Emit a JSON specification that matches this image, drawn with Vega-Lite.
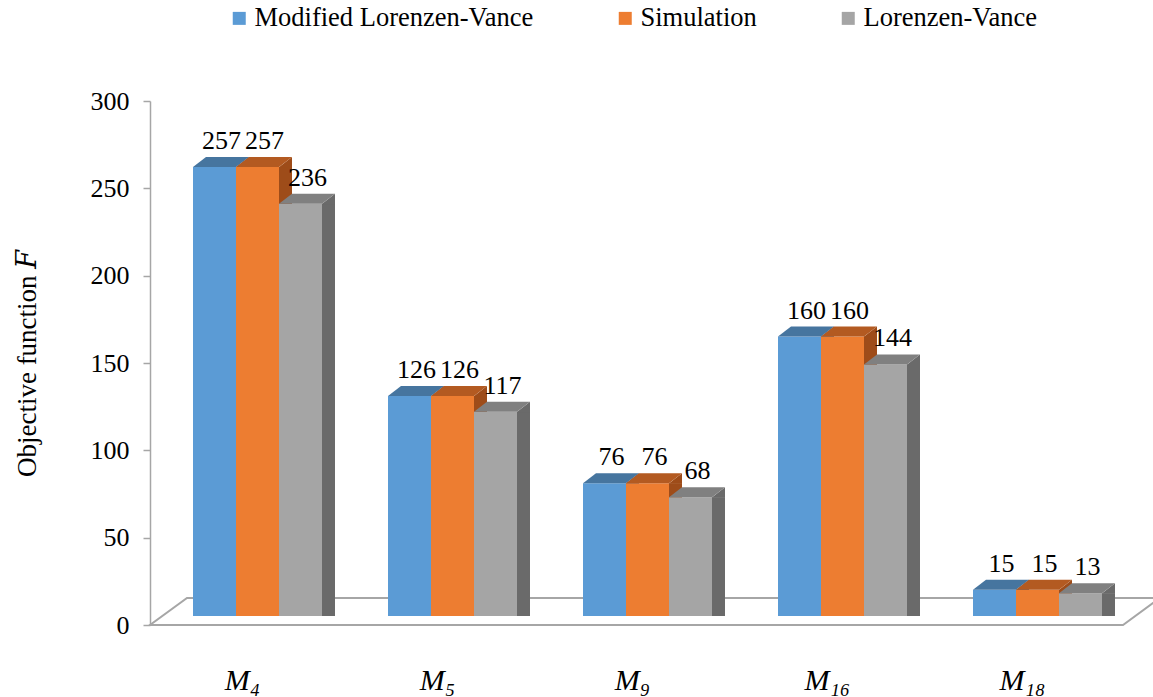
{
  "$schema": "https://vega.github.io/schema/vega-lite/v6.json",
  "width": 975,
  "height": 524,
  "autosize": "none",
  "padding": {"left": 150, "top": 101, "right": 28, "bottom": 72},
  "background": "white",
  "config": {
    "view": {"stroke": null},
    "font": "Liberation Serif, Times New Roman, DejaVu Serif, serif",
    "axisX": {
      "domain": false,
      "ticks": false,
      "labelAngle": 0,
      "labelFont": "Liberation Serif, Times New Roman, DejaVu Serif, serif",
      "labelFontStyle": "italic",
      "labelFontSize": 30,
      "labelColor": "black",
      "labelPadding": 40,
      "labelOffset": -5
    },
    "axisY": {
      "grid": false,
      "domainColor": "#A6A6A6",
      "domainWidth": 1.5,
      "tickColor": "#A6A6A6",
      "tickWidth": 1.5,
      "tickSize": 7,
      "labelFont": "Liberation Serif, Times New Roman, DejaVu Serif, serif",
      "labelFontSize": 26,
      "labelColor": "black",
      "labelPadding": 14,
      "titleFont": "Liberation Serif, Times New Roman, DejaVu Serif, serif",
      "titleFontSize": 27,
      "titleFontWeight": "normal",
      "titleColor": "black",
      "titlePadding": 49
    },
    "legend": {
      "orient": "none",
      "legendX": 76,
      "legendY": -96,
      "direction": "horizontal",
      "symbolType": "square",
      "symbolSize": 169,
      "symbolStrokeWidth": 0,
      "labelFont": "Liberation Serif, Times New Roman, DejaVu Serif, serif",
      "labelFontSize": 26.5,
      "labelColor": "black",
      "labelOffset": 2,
      "labelLimit": 500,
      "columnPadding": 78,
      "title": null
    }
  },
  "data": {
    "values": [
      {"model": "M₄", "method": "Modified Lorenzen-Vance", "F": 257},
      {"model": "M₄", "method": "Simulation", "F": 257},
      {"model": "M₄", "method": "Lorenzen-Vance", "F": 236},
      {"model": "M₅", "method": "Modified Lorenzen-Vance", "F": 126},
      {"model": "M₅", "method": "Simulation", "F": 126},
      {"model": "M₅", "method": "Lorenzen-Vance", "F": 117},
      {"model": "M₉", "method": "Modified Lorenzen-Vance", "F": 76},
      {"model": "M₉", "method": "Simulation", "F": 76},
      {"model": "M₉", "method": "Lorenzen-Vance", "F": 68},
      {"model": "M₁₆", "method": "Modified Lorenzen-Vance", "F": 160},
      {"model": "M₁₆", "method": "Simulation", "F": 160},
      {"model": "M₁₆", "method": "Lorenzen-Vance", "F": 144},
      {"model": "M₁₈", "method": "Modified Lorenzen-Vance", "F": 15},
      {"model": "M₁₈", "method": "Simulation", "F": 15},
      {"model": "M₁₈", "method": "Lorenzen-Vance", "F": 13}
    ]
  },
  "encoding": {
    "x": {
      "field": "model",
      "type": "nominal",
      "sort": null,
      "title": null,
      "scale": {"domain": ["M₄", "M₅", "M₉", "M₁₆", "M₁₈"], "paddingInner": 0.3385, "paddingOuter": 0.16925}
    }
  },
  "layer": [
    {
      "transform": [{"filter": "datum.model === 'M₉' && datum.method === 'Simulation'"}],
      "mark": {
        "type": "point",
        "shape": "M-9.75,0 L9.71,0 L10.45,-0.54 L-9.01,-0.54 Z",
        "size": 10000,
        "filled": false,
        "color": "#A6A6A6",
        "strokeWidth": 2,
        "opacity": 1
      },
      "encoding": {
        "y": {"datum": 0, "type": "quantitative", "scale": {"domain": [0, 300]}, "title": "Objective function 𝐹", "axis": {"values": [0, 50, 100, 150, 200, 250, 300]}}
      }
    },
    {
      "mark": {"type": "bar", "width": 13, "yOffset": -9, "y2Offset": -14},
      "encoding": {
        "y": {"field": "F", "type": "quantitative", "scale": {"domain": [0, 300]}, "title": "Objective function 𝐹", "axis": {"values": [0, 50, 100, 150, 200, 250, 300]}},
        "xOffset": {"field": "method", "type": "nominal", "scale": {"domain": ["Modified Lorenzen-Vance", "Simulation", "Lorenzen-Vance"], "range": [38, 167], "paddingInner": 0, "paddingOuter": 0}},
        "fill": {"field": "method", "type": "nominal", "legend": null, "scale": {"domain": ["Modified Lorenzen-Vance", "Simulation", "Lorenzen-Vance"], "range": ["#3A6590", "#9E4C19", "#6A6A6A"]}}
      }
    },
    {
      "mark": {"type": "point", "shape": "M0.42,0.01 L0.69,-0.2 L0.69,0.01 Z", "size": 10000, "filled": true, "opacity": 1, "strokeWidth": 0, "yOffset": -9},
      "encoding": {
        "y": {"field": "F", "type": "quantitative", "scale": {"domain": [0, 300]}, "title": "Objective function 𝐹", "axis": {"values": [0, 50, 100, 150, 200, 250, 300]}},
        "xOffset": {"field": "method", "type": "nominal", "scale": {"type": "point", "domain": ["Modified Lorenzen-Vance", "Simulation", "Lorenzen-Vance"], "range": [31.5, 117.5], "padding": 0}},
        "fill": {"field": "method", "type": "nominal", "legend": null, "scale": {"domain": ["Modified Lorenzen-Vance", "Simulation", "Lorenzen-Vance"], "range": ["#3A6590", "#9E4C19", "#6A6A6A"]}}
      }
    },
    {
      "mark": {"type": "bar", "yOffset": -9, "y2Offset": -9},
      "encoding": {
        "y": {"field": "F", "type": "quantitative", "scale": {"domain": [0, 300]}, "title": "Objective function 𝐹", "axis": {"values": [0, 50, 100, 150, 200, 250, 300]}},
        "xOffset": {"field": "method", "type": "nominal", "scale": {"domain": ["Modified Lorenzen-Vance", "Simulation", "Lorenzen-Vance"], "range": [10, 139], "paddingInner": 0, "paddingOuter": 0}},
        "color": {"field": "method", "type": "nominal", "scale": {"domain": ["Modified Lorenzen-Vance", "Simulation", "Lorenzen-Vance"], "range": ["#5B9BD5", "#ED7D31", "#A5A5A5"]}}
      }
    },
    {
      "mark": {"type": "point", "shape": "M-0.43,0 L0.43,0 L0.69,-0.2 L-0.17,-0.2 Z", "size": 10000, "filled": true, "opacity": 1, "strokeWidth": 0, "yOffset": -9},
      "encoding": {
        "y": {"field": "F", "type": "quantitative", "scale": {"domain": [0, 300]}, "title": "Objective function 𝐹", "axis": {"values": [0, 50, 100, 150, 200, 250, 300]}},
        "xOffset": {"field": "method", "type": "nominal", "scale": {"type": "point", "domain": ["Modified Lorenzen-Vance", "Simulation", "Lorenzen-Vance"], "range": [31.5, 117.5], "padding": 0}},
        "fill": {"field": "method", "type": "nominal", "legend": null, "scale": {"domain": ["Modified Lorenzen-Vance", "Simulation", "Lorenzen-Vance"], "range": ["#46759F", "#B35A21", "#808080"]}}
      }
    },
    {
      "mark": {"type": "text", "font": "Liberation Serif, Times New Roman, DejaVu Serif, serif", "fontSize": 26, "color": "black", "baseline": "alphabetic", "align": "center", "dx": 7, "dy": -27},
      "encoding": {
        "y": {"field": "F", "type": "quantitative", "scale": {"domain": [0, 300]}, "title": "Objective function 𝐹", "axis": {"values": [0, 50, 100, 150, 200, 250, 300]}},
        "xOffset": {"field": "method", "type": "nominal", "scale": {"type": "point", "domain": ["Modified Lorenzen-Vance", "Simulation", "Lorenzen-Vance"], "range": [31.5, 117.5], "padding": 0}},
        "text": {"field": "F", "type": "quantitative"}
      }
    }
  ],
  "resolve": {"scale": {"xOffset": "independent", "fill": "independent"}}
}
